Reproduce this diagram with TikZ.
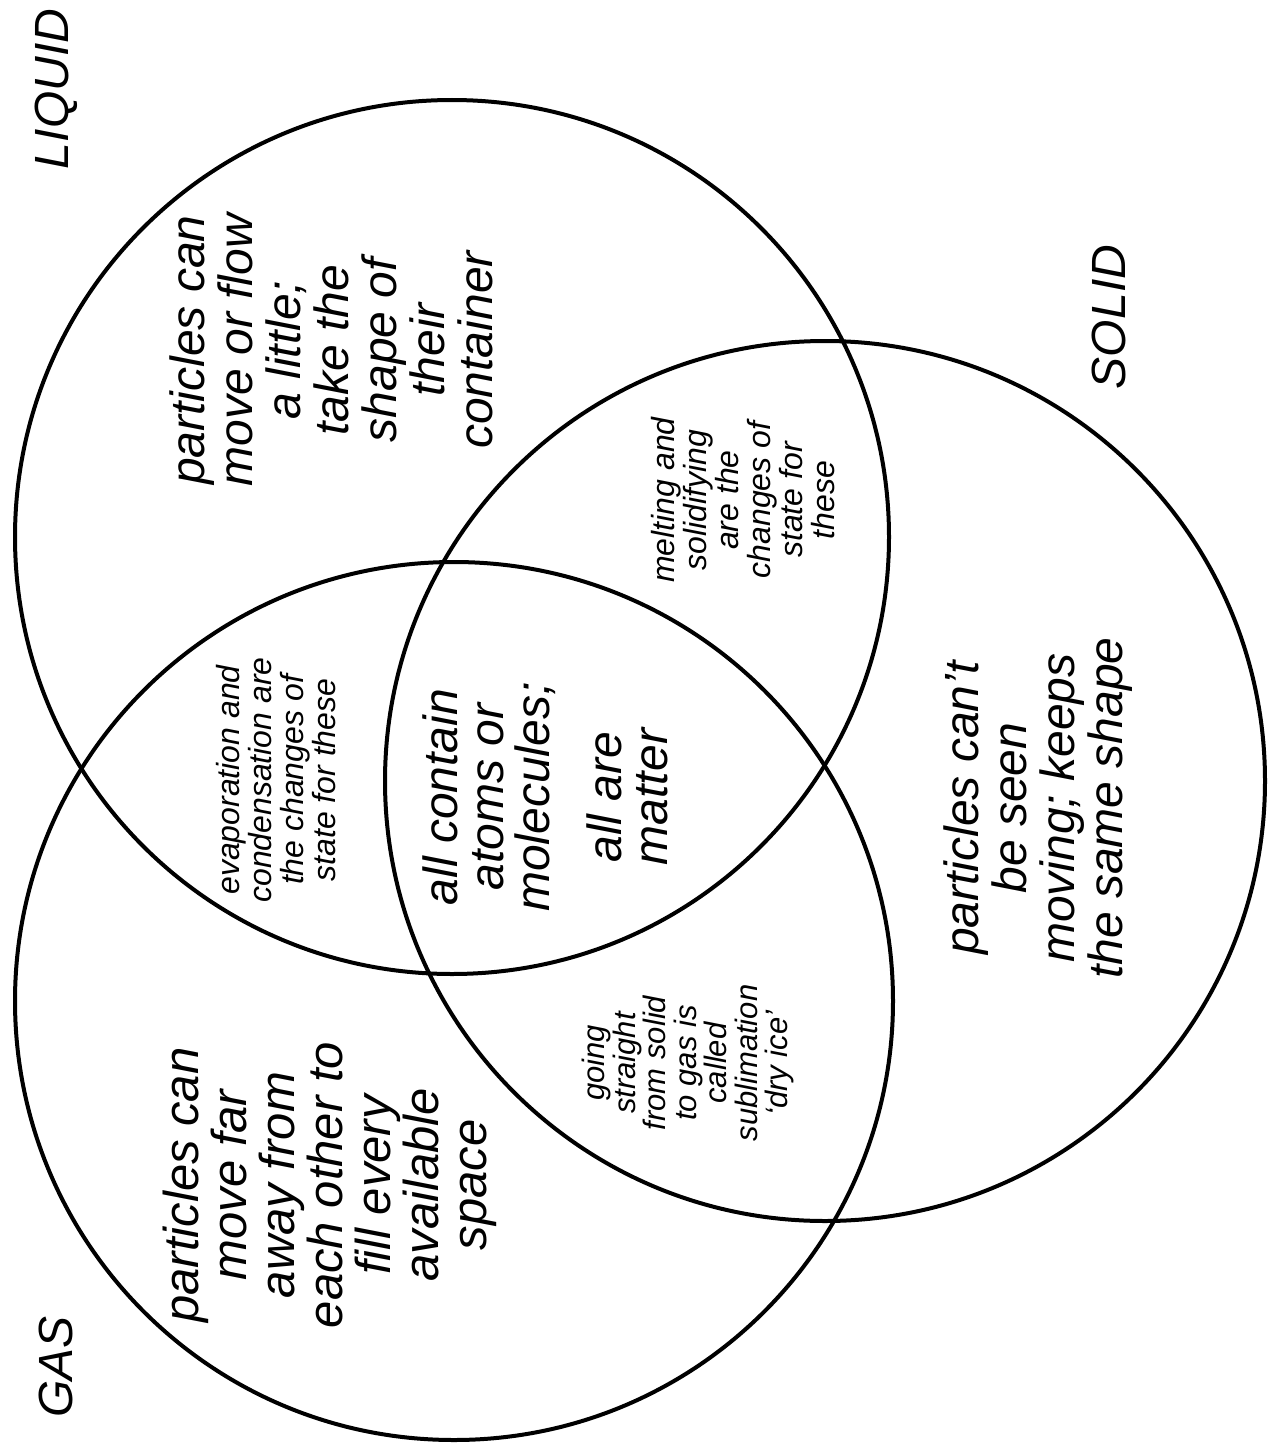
\documentclass[tikz,border=0pt]{standalone}
\usepackage{fontspec}
\setmainfont{Liberation Sans}
\begin{document}
\begin{tikzpicture}[x=0.5pt, y=-0.5pt,
  ring/.style={draw, line width=2pt},
  big/.style={rotate=90, align=center, inner sep=0pt, font=\itshape\fontsize{24}{24}\selectfont},
  small/.style={rotate=90, align=center, inner sep=0pt, font=\itshape\fontsize{16}{16}\selectfont},
  phase/.style={rotate=90, inner sep=0pt, font=\itshape\fontsize{24}{24}\selectfont}]
\useasboundingbox (0,0) rectangle (1280,1450);
% the three circles
\draw[ring] (452,537) circle[radius=218.5pt];
\draw[ring] (454,1001) circle[radius=219.5pt];
\draw[ring] (825,781) circle[radius=220pt];
% names of the states
\node[phase] (liquid) at (56,89) {LIQUID};
\node[phase] (solid) at (1109,317) {SOLID};
\node[phase] (gas) at (56,1367) {GAS};
% one state only
\node[big] (liqtxt) at (331,350) {particles can\\move or flow\\a little;\\take the\\shape of\\their\\container};
\node[big] (soltxt) at (1038,808) {particles can’t\\be seen\\moving; keeps\\the same shape};
\node[big, font=\itshape\fontsize{24.5}{24}\selectfont] (gastxt) at (330,1185) {particles can\\move far\\away from\\each other to\\fill every\\available\\space};
% overlaps
\node[big, font=\itshape\fontsize{24}{23}\selectfont] (alltxt) at (545,797) {all contain\\atoms or\\molecules;\\[13pt]all are\\matter};
\node[small] (evap) at (276,780) {evaporation and\\condensation are\\the changes of\\state for these};
\node[small] (melt) at (743,500) {melting and\\solidifying\\are the\\changes of\\state for\\these};
\node[small, font=\itshape\fontsize{15.5}{15.25}\selectfont] (subl) at (688,1063) {going\\straight\\from solid\\to gas is\\called\\sublimation\\‘dry ice’};
\end{tikzpicture}
\end{document}
